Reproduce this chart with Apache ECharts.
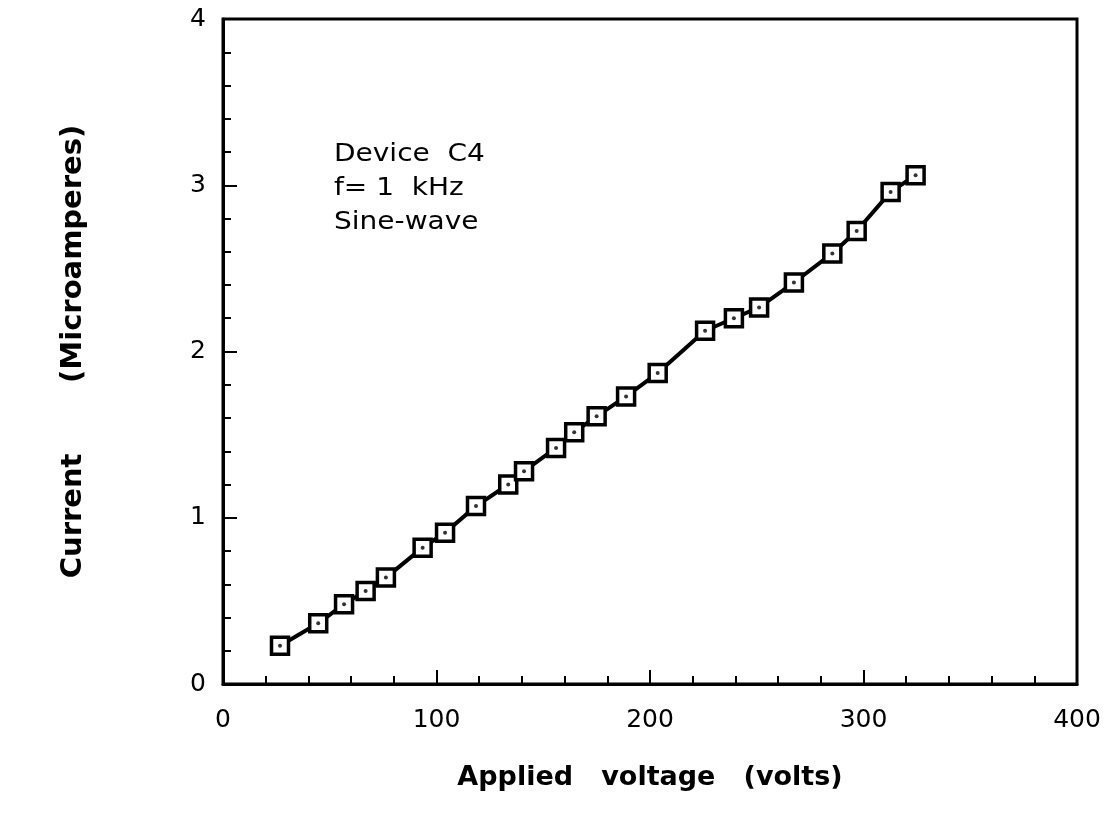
<!DOCTYPE html>
<html>
<head>
    <meta charset="UTF-8">
    <script src="https://cdn.jsdelivr.net/npm/echarts@6/dist/echarts.min.js"></script>
    <style>
        html, body { margin: 0; padding: 0; background: #fff; }
        #chart { width: 1117px; height: 822px; }
    </style>
    <title>Current vs applied voltage</title>
</head>
<body>
    <div id="chart"></div>
    <script>
        // applied voltage (volts)
        var voltage = [26.7, 44.6, 56.7, 66.8, 76.3, 93.5, 104.0, 118.5, 133.6, 141.0, 156.0, 164.5,
            175.0, 188.8, 203.6, 225.8, 239.3, 251.1, 267.4, 285.4, 296.8, 312.7, 324.4];
        // current (microamperes)
        var current = [0.23, 0.365, 0.48, 0.56, 0.64, 0.82, 0.91, 1.07, 1.20, 1.28, 1.42, 1.515,
            1.61, 1.73, 1.87, 2.125, 2.20, 2.265, 2.415, 2.59, 2.725, 2.96, 3.06];
        var noteLines = ['Device  C4', 'f= 1  kHz', 'Sine-wave'];

        var points = voltage.map(function (v, i) { return [v, current[i]]; });

        var chart = echarts.init(document.getElementById('chart'), null, { renderer: 'canvas' });
        var font = '"DejaVu Sans", Verdana, sans-serif';

        var option = {
            backgroundColor: '#fff',
            animation: false,
            grid: {
                left: 223, right: 40, top: 19, bottom: 138,
                show: true, borderColor: '#000', borderWidth: 3
            },
            xAxis: {
                type: 'value', min: 0, max: 400, interval: 100,
                name: 'Applied   voltage   (volts)',
                nameLocation: 'middle', nameGap: 80,
                nameTextStyle: { fontFamily: font, fontWeight: 'bold', fontSize: 27, color: '#000' },
                axisLine: { lineStyle: { color: '#000', width: 3 } },
                axisTick: { inside: true, length: 14, lineStyle: { color: '#000', width: 2 } },
                minorTick: { show: true, splitNumber: 5, length: 8, lineStyle: { color: '#000', width: 2 } },
                axisLabel: { margin: 24, fontFamily: font, fontSize: 25, color: '#000' },
                splitLine: { show: false }
            },
            yAxis: {
                type: 'value', min: 0, max: 4, interval: 1,
                name: 'Current       (Microamperes)',
                nameLocation: 'middle', nameGap: 135, nameRotate: 90,
                nameTextStyle: { fontFamily: font, fontWeight: 'bold', fontSize: 29, color: '#000' },
                axisLine: { lineStyle: { color: '#000', width: 3 } },
                axisTick: { inside: true, length: 14, lineStyle: { color: '#000', width: 2 } },
                minorTick: { show: true, splitNumber: 5, length: 8, lineStyle: { color: '#000', width: 2 } },
                axisLabel: { margin: 17, padding: [8, 0, 0, 0], fontFamily: font, fontSize: 25, color: '#000' },
                splitLine: { show: false }
            },
            graphic: noteLines.map(function (t, i) {
                return {
                    type: 'text', x: 334, y: 142 + i * 34, scaleX: 1.12,
                    style: { text: t, font: '25px ' + font, fill: '#000' }
                };
            }),
            series: [{
                type: 'line',
                data: points,
                lineStyle: { color: '#000', width: 4 },
                symbol: 'rect', symbolSize: 17,
                itemStyle: { color: '#fff', borderColor: '#000', borderWidth: 3.5 },
                z: 2
            }, {
                type: 'scatter',
                data: points,
                symbol: 'circle', symbolSize: 4,
                itemStyle: { color: '#000' },
                z: 3
            }]
        };

        chart.setOption(option);
        window.addEventListener('resize', chart.resize);
    </script>
</body>
</html>
